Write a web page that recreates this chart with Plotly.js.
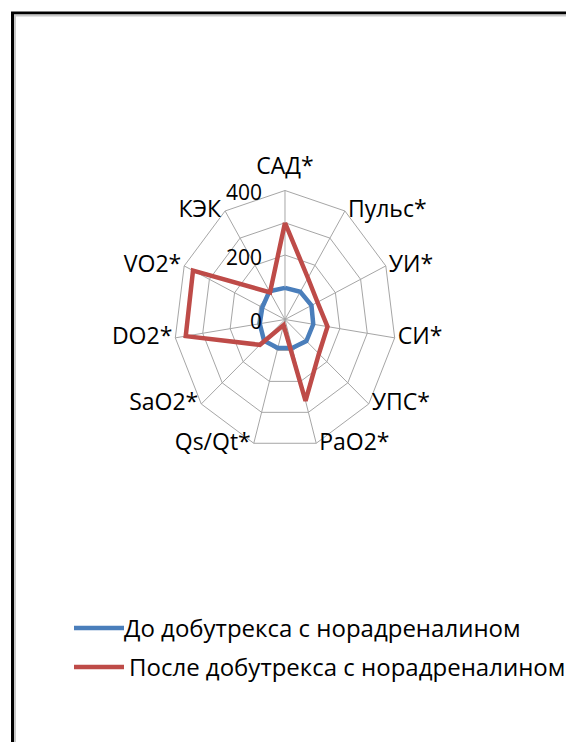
<!DOCTYPE html>
<html>
<head>
<meta charset="utf-8">
<script src="https://cdn.plot.ly/plotly-3.0.1.min.js"></script>
<style>
html,body{margin:0;padding:0;background:#fff;}
#chart{width:566px;height:742px;}
</style>
</head>
<body>
<div id="chart"></div>
<script>
var categories = ['САД*','Пульс*','УИ*','СИ*','УПС*','PaO2*','Qs/Qt*','SaO2*','DO2*','VO2*','КЭК'];
var seriesNames = ['До добутрекса с норадреналином','После добутрекса с норадреналином'];
var before = [98, 102, 105, 103, 102, 92, 92, 100, 92, 90, 104];
var after = [300, 153, 129, 155, 162, 263, 18, 120, 362, 365, 100];
var radialTicks = [0, 100, 200, 300, 400];
var radialTickText = ['0', '', '200', '', '400'];

function closeLoop(a){ return a.concat([a[0]]); }

var W = 566, H = 742;
var CX = 285, CY = 319.5, RY = 129, SX = 0.859, RX = RY * SX;
var FONT = 'Open Sans, sans-serif';

var traces = [
  {type:'scatterpolar', mode:'lines', name:seriesNames[0], r:closeLoop(before), theta:closeLoop(categories),
   line:{color:'#4a7ebb', width:4.5}, legend:'legend'},
  {type:'scatterpolar', mode:'lines', name:seriesNames[1], r:closeLoop(after), theta:closeLoop(categories),
   line:{color:'#be4b48', width:4.5}, legend:'legend2'}
];

var layout = {
  width:W, height:H,
  margin:{l:0,r:0,t:0,b:0,autoexpand:false},
  paper_bgcolor:'#ffffff',
  font:{family:FONT, color:'#000', size:20},
  polar:{
    domain:{x:[(CX-RY)/W,(CX+RY)/W], y:[(H-CY-RY)/H,(H-CY+RY)/H]},
    bgcolor:'rgba(0,0,0,0)',
    gridshape:'linear',
    angularaxis:{type:'category', direction:'clockwise', rotation:90,
      categoryarray:categories,
      showline:true, linecolor:'#a6a6a6', linewidth:1,
      gridcolor:'#a6a6a6', gridwidth:1, ticks:'',
      tickfont:{family:FONT, size:23, color:'#000'}},
    radialaxis:{range:[0,400], angle:90, tickangle:90, side:'counterclockwise',
      tickvals:radialTicks, ticktext:radialTickText,
      showline:false, gridcolor:'#a6a6a6', gridwidth:1, ticks:'',
      tickfont:{family:FONT, size:21, color:'#000'}}
  },
  showlegend:true,
  legend:{x:69/W, y:1-606/H, xanchor:'left', yanchor:'top', bgcolor:'rgba(0,0,0,0)',
    font:{family:FONT, size:24, color:'#000'}, itemwidth:50},
  legend2:{x:69/W, y:1-645/H, xanchor:'left', yanchor:'top', bgcolor:'rgba(0,0,0,0)',
    font:{family:FONT, size:24, color:'#000'}, itemwidth:50},
  shapes:[
    {type:'rect', xref:'paper', yref:'paper', x0:12.5/W, x1:1.05, y0:-0.05, y1:1-13/H,
     line:{color:'#000', width:3}, fillcolor:'rgba(0,0,0,0)'},
    {type:'rect', xref:'paper', yref:'paper', x0:15/W, x1:1.05, y0:-0.05, y1:1-15.5/H,
     line:{color:'#c8c8c8', width:2}, fillcolor:'rgba(0,0,0,0)'}
  ]
};

var gd = document.getElementById('chart');

function tightenLegendText(){
  Array.prototype.forEach.call(gd.querySelectorAll('.legendtext'), function(t){
    if(t.getAttribute('data-shifted')) return;
    var x = parseFloat(t.getAttribute('x') || '0');
    t.setAttribute('x', x - 5);
    t.setAttribute('data-shifted', '1');
  });
}

Plotly.newPlot(gd, traces, layout, {displayModeBar:false, staticPlot:true}).then(function(){
  var ns = 'http://www.w3.org/2000/svg';
  tightenLegendText();
  setTimeout(tightenLegendText, 0);
  setTimeout(tightenLegendText, 60);
  setTimeout(tightenLegendText, 250);
  var pl = gd.querySelector('.polarlayer');
  var polarG = pl && pl.firstElementChild;
  if(!polarG) return;
  var kids = Array.prototype.slice.call(polarG.children);
  var textKids = kids.filter(function(k){ return !!k.querySelector('text'); });
  var shapeKids = kids.filter(function(k){ return !k.querySelector('text'); });
  if(!shapeKids.length) return;
  var wrap = document.createElementNS(ns, 'g');
  polarG.insertBefore(wrap, shapeKids[0]);
  shapeKids.forEach(function(k){ wrap.appendChild(k); });
  Array.prototype.forEach.call(wrap.querySelectorAll('path,line,polyline,polygon'), function(p){
    p.setAttribute('vector-effect', 'non-scaling-stroke');
    p.style.vectorEffect = 'non-scaling-stroke';
  });
  function measure(){
    var L = 1e9, R = -1e9, T = 1e9, B = -1e9;
    Array.prototype.forEach.call(wrap.querySelectorAll('path'), function(p){
      var r = p.getBoundingClientRect();
      if(r.width > 150 && r.width < 330 && r.height > 150 && r.height < 330){
        L = Math.min(L, r.left); R = Math.max(R, r.right);
        T = Math.min(T, r.top); B = Math.max(B, r.bottom);
      }
    });
    return {cx:(L+R)/2, top:T, h:B-T};
  }
  var m0 = measure();
  var ctm = polarG.getScreenCTM();
  var a = ctm ? ctm.a : 1, e = ctm ? ctm.e : 0;
  var pcx = m0.cx, pcy = m0.top + m0.h / (1 + Math.cos(Math.PI / categories.length));
  wrap.setAttribute('transform', 'translate(' + ((CX - e) / a) + ',' + ((CY - pcy) / a) + ') scale(' + SX + ',1) translate(' + (-(pcx - e) / a) + ',0)');
  var m1 = measure();
  var dx = CX - m1.cx;
  if(Math.abs(dx) > 0.3){
    var outer = document.createElementNS(ns, 'g');
    outer.setAttribute('transform', 'translate(' + (dx / a) + ',0)');
    polarG.insertBefore(outer, wrap);
    outer.appendChild(wrap);
  }

  var svgRect = gd.querySelector('.main-svg').getBoundingClientRect();
  var texts = [];
  textKids.forEach(function(k){ texts = texts.concat(Array.prototype.slice.call(k.querySelectorAll('text'))); });
  texts.forEach(function(t){
    var txt = (t.textContent || '').trim();
    if(!txt) return;
    var r = t.getBoundingClientRect();
    var left = r.left - svgRect.left, top = r.top - svgRect.top, w = r.width, h = r.height;
    var cx0 = left + w/2, cy0 = top + h/2;
    var tx, ty;
    var i = categories.indexOf(txt);
    if(i >= 0){
      var th = i * 2 * Math.PI / categories.length;
      var s = Math.sin(th), c = Math.cos(th);
      var vx = CX + RX * s, vy = CY - RY * c;
      var GAP = 3;
      if(Math.abs(s) < 0.05){
        tx = vx; ty = c > 0 ? vy - 26 : vy + 26;
      } else {
        tx = s > 0 ? vx + GAP + w/2 : vx - GAP - w/2;
        ty = vy - 2.5;
      }
    } else {
      var val = parseFloat(txt);
      if(isNaN(val)) return;
      tx = CX - 23 - w/2;
      ty = CY - RY * val / 400 + 1.5;
    }
    var pdx = tx - cx0, pdy = ty - cy0;
    var pm = t.parentNode.getScreenCTM();
    var ldx = pdx, ldy = pdy;
    if(pm){
      var inv = pm.inverse();
      ldx = inv.a * pdx + inv.c * pdy;
      ldy = inv.b * pdx + inv.d * pdy;
    }
    var g = document.createElementNS(ns, 'g');
    g.setAttribute('transform', 'translate(' + ldx + ',' + ldy + ')');
    t.parentNode.insertBefore(g, t);
    g.appendChild(t);
  });
});
</script>
</body>
</html>
